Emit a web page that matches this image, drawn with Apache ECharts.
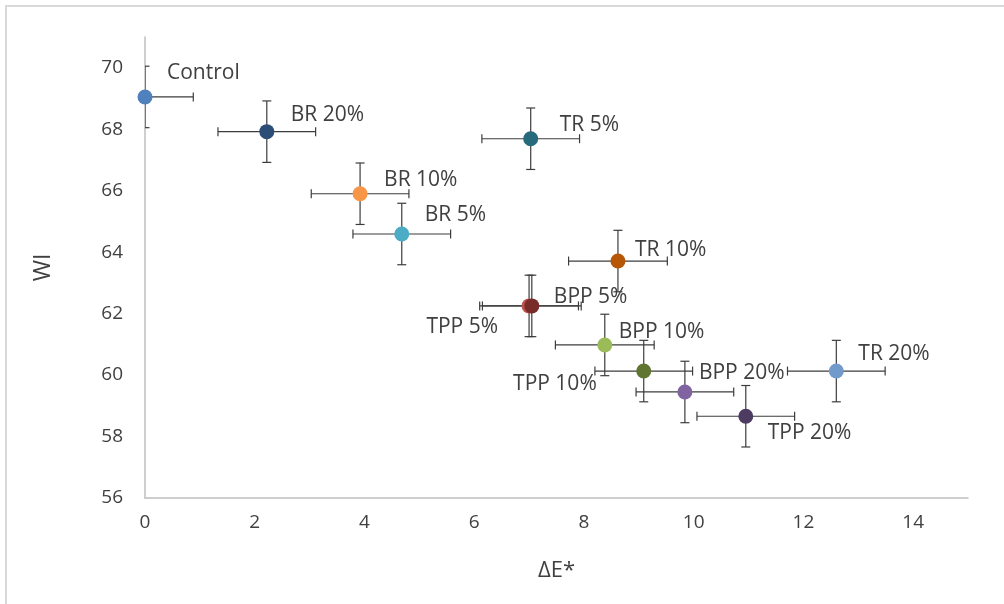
<!DOCTYPE html>
<html>
<head>
<meta charset="utf-8">
<script src="https://cdn.jsdelivr.net/npm/echarts@6/dist/echarts.min.js"></script>
<style>
html,body{margin:0;padding:0;background:#fff;}
#main{width:1004px;height:604px;}
</style>
</head>
<body>
<div id="main"></div>
<script>
// ---- data ----
const names = ['Control','TPP 5%','BPP 10%','BPP 20%','BR 5%','BR 10%','BR 20%','BPP 5%','TPP 10%','TPP 20%','TR 5%','TR 10%','TR 20%'];
const deltaE = [0, 7.00, 8.38, 9.84, 4.68, 3.92, 2.22, 7.05, 9.09, 10.95, 7.03, 8.62, 12.60];
const wi     = [69.05, 62.25, 60.98, 59.45, 64.59, 65.90, 67.92, 62.25, 60.13, 58.66, 67.69, 63.71, 60.13];
const errE   = [0.88, 0.90, 0.90, 0.89, 0.89, 0.89, 0.89, 0.90, 0.89, 0.89, 0.89, 0.90, 0.89];
const errWI  = [1.0, 1.0, 1.0, 1.0, 1.0, 1.0, 1.0, 1.0, 1.0, 1.0, 1.0, 1.0, 1.0];
const xTicks = [0,2,4,6,8,10,12,14];
const yTicks = [56,58,60,62,64,66,68,70];

// ---- style ----
const colors = ['#4F81BD','#C0504D','#9BBB59','#8064A2','#4BACC6','#F79646','#2C4D75','#772C2A','#5F7530','#4D3B62','#276A7C','#B65708','#729ACA'];
// label offset [dx, dy] from the marker centre, and alignment
const labelLayout = [
  [22,-24,'left'],[-31,21,'right'],[14,-13,'left'],[14,-19,'left'],[23,-19,'left'],[24,-14,'left'],
  [24,-17,'left'],[22,-9,'left'],[-47,13,'right'],[22,17,'left'],[29,-14,'left'],[17,-11,'left'],[22,-17,'left']
];
const FONT = 'Open Sans';
const errColor = '#3c3c3c';

const chart = echarts.init(document.getElementById('main'), null, {renderer:'canvas'});

const series = [];
// error bars
series.push({
  type:'custom',
  name:'err',
  silent:true,
  z:2,
  clip:true,
  data: names.map((n,i)=>[deltaE[i], wi[i], errE[i], errWI[i]]),
  renderItem(params, api){
    const x = api.value(0), y = api.value(1), ex = api.value(2), ey = api.value(3);
    const pL = api.coord([x-ex, y]), pR = api.coord([x+ex, y]);
    const pT = api.coord([x, y+ey]), pB = api.coord([x, y-ey]);
    const cap = 4.5;
    const st = {stroke:errColor, lineWidth:1.2};
    return {type:'group', children:[
      {type:'line', shape:{x1:pL[0],y1:pL[1],x2:pR[0],y2:pR[1]}, style:st},
      {type:'line', shape:{x1:pL[0],y1:pL[1]-cap,x2:pL[0],y2:pL[1]+cap}, style:st},
      {type:'line', shape:{x1:pR[0],y1:pR[1]-cap,x2:pR[0],y2:pR[1]+cap}, style:st},
      {type:'line', shape:{x1:pT[0],y1:pT[1],x2:pB[0],y2:pB[1]}, style:st},
      {type:'line', shape:{x1:pT[0]-cap,y1:pT[1],x2:pT[0]+cap,y2:pT[1]}, style:st},
      {type:'line', shape:{x1:pB[0]-cap,y1:pB[1],x2:pB[0]+cap,y2:pB[1]}, style:st}
    ]};
  }
});
// points
names.forEach((n,i)=>{
  const lay = labelLayout[i];
  series.push({
    type:'scatter',
    name:n,
    z:3,
    symbolSize:15,
    itemStyle:{color:colors[i], opacity:1},
    data:[[deltaE[i], wi[i]]],
    label:{
      show:true,
      formatter:n,
      position:'inside',
      offset:[lay[0], lay[1]],
      align:lay[2],
      verticalAlign:'middle',
      color:'#404040',
      fontFamily:FONT,
      fontSize:21
    },
    emphasis:{disabled:true}
  });
});

chart.setOption({
  animation:false,
  backgroundColor:'#fff',
  graphic:[{type:'rect', z:-10, shape:{x:6,y:6,width:1100,height:700}, style:{fill:'none', stroke:'#d9d9d9', lineWidth:2}}],
  grid:{left:145, right:36, top:37, bottom:106, containLabel:false},
  xAxis:{
    type:'value', min:0, max:15, interval:2,
    name:'ΔE*', nameLocation:'middle', nameGap:62,
    nameTextStyle:{fontFamily:FONT, fontSize:22, color:'#404040'},
    axisLine:{show:true, onZero:false, lineStyle:{color:'#bfbfbf', width:1.5}},
    axisTick:{show:false},
    splitLine:{show:false},
    axisLabel:{showMaxLabel:false, margin:15, fontFamily:FONT, fontSize:19, color:'#404040',
      formatter:v=> xTicks.indexOf(v)>=0 ? String(v) : ''}
  },
  yAxis:{
    type:'value', min:56, max:71, interval:2,
    name:'WI', nameLocation:'middle', nameGap:90, nameRotate:90,
    nameTextStyle:{fontFamily:FONT, fontSize:23, color:'#404040'},
    axisLine:{show:true, onZero:false, lineStyle:{color:'#bfbfbf', width:1.5}},
    axisTick:{show:false},
    splitLine:{show:false},
    axisLabel:{showMaxLabel:false, margin:22, fontFamily:FONT, fontSize:19, color:'#404040',
      formatter:v=> yTicks.indexOf(v)>=0 ? String(v) : ''}
  },
  series:series
});
</script>
</body>
</html>
